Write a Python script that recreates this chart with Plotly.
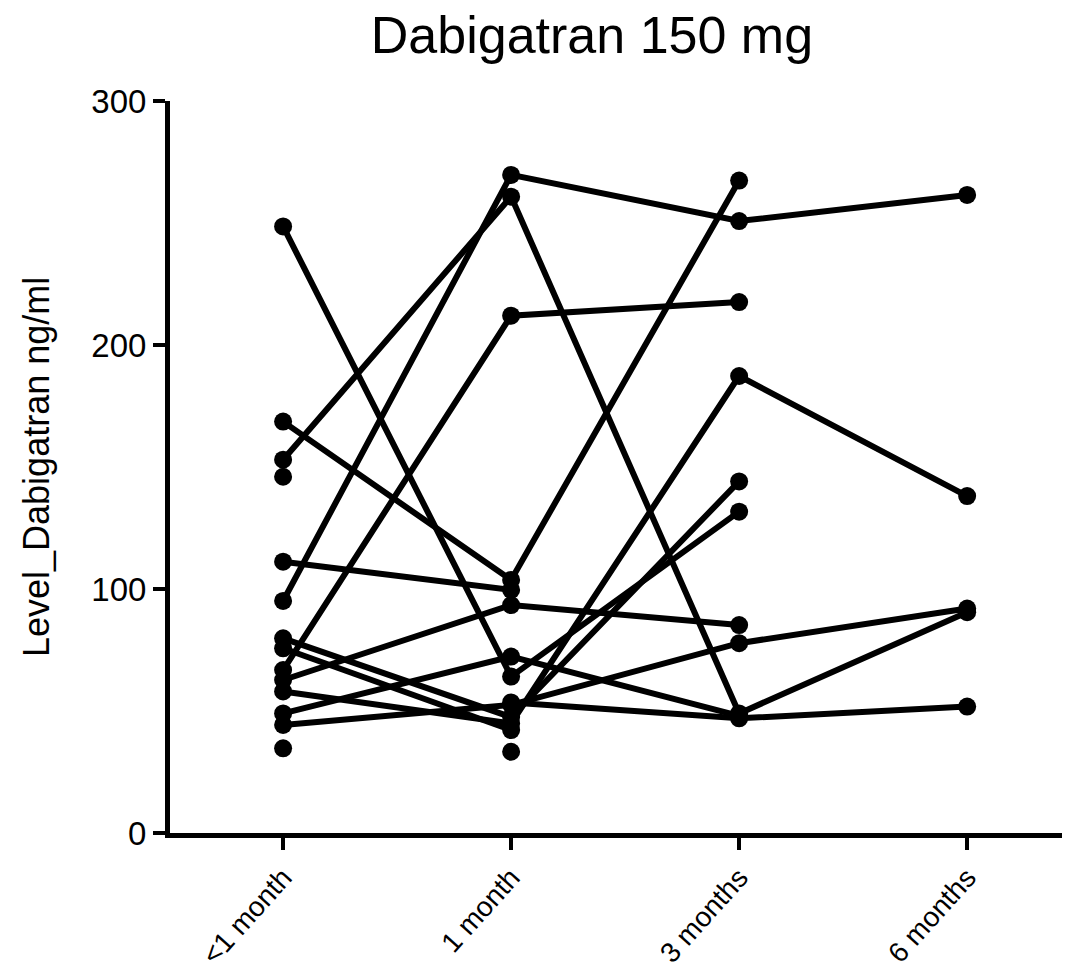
import plotly.graph_objects as go

categories = ["<1 month", "1 month", "3 months", "6 months"]
y_ticks = [0, 100, 200, 300]

# one entry per patient (None = no measurement at that visit)
lt1_month = [248.6, 168.6, 153.0, 146.0, 111.2, 95.1, 79.8, 75.7, 66.8, 62.7, 58.0, 49.0, 44.3, 34.7, None, None]
one_month = [64.1, 103.7, 260.8, None, 99.6, 269.7, 47.5, 42.2, 212.0, 93.4, 44.9, 72.3, 52.5, None, 53.5, 33.3]
three_months = [131.7, 267.4, 49.0, None, None, 250.8, 144.1, None, 217.6, 85.2, 187.3, 48.0, 77.8, None, 47.0, None]
six_months = [None, None, 90.5, None, None, 261.5, None, None, None, None, 138.1, None, 92.0, None, 51.8, None]

FONT = "Liberation Sans, Arial, Helvetica, sans-serif"

fig = go.Figure()
for i in range(len(lt1_month)):
    vals = [lt1_month[i], one_month[i], three_months[i], six_months[i]]
    xs = [k for k, v in enumerate(vals) if v is not None]
    ys = [v for v in vals if v is not None]
    fig.add_trace(go.Scatter(
        x=xs, y=ys, mode="lines+markers",
        line=dict(color="black", width=6),
        marker=dict(color="black", size=18),
        showlegend=False, cliponaxis=False, hoverinfo="skip",
    ))

fig.update_layout(
    width=1066, height=976,
    margin=dict(l=170, r=4, t=101, b=143, autoexpand=False),
    paper_bgcolor="white", plot_bgcolor="white",
    font=dict(family=FONT, color="black"),
    title=dict(text="Dabigatran 150 mg", x=0.5553, xref="container", xanchor="center",
               y=1 - 35 / 976, yref="container", yanchor="middle",
               font=dict(size=52, family=FONT, color="black")),
    xaxis=dict(
        range=[-0.496, 3.416], tickmode="array", tickvals=list(range(len(categories))),
        ticktext=categories, tickangle=-48, tickfont=dict(size=28, family=FONT),
        showline=True, linecolor="black", linewidth=5, ticks="outside", ticklen=12,
        tickwidth=4, tickcolor="black", showgrid=False, zeroline=False, automargin=False,
    ),
    yaxis=dict(
        range=[0, 300], tickmode="array", tickvals=y_ticks, ticktext=[str(t) for t in y_ticks],
        tickfont=dict(size=33, family=FONT), showline=True, linecolor="black", linewidth=5,
        ticks="outside", ticklen=12, tickwidth=4, tickcolor="black",
        showgrid=False, zeroline=False, automargin=False,
    ),
    annotations=[dict(
        text="Level_Dabigatran ng/ml", textangle=-90, xref="paper", yref="paper",
        x=(36 - 170) / 892, y=0.5, xanchor="center", yanchor="middle", showarrow=False,
        font=dict(size=36, family=FONT, color="black"),
    )],
)

fig.write_html("out.html")
